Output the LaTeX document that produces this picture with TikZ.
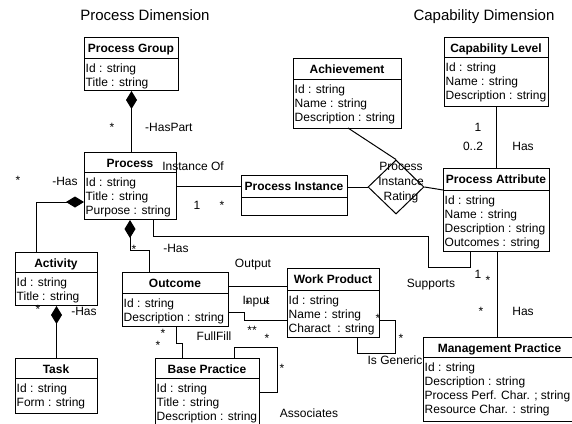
\documentclass[tikz,border=0pt]{standalone}
\usepackage{fontspec}
\setmainfont{Liberation Sans}
\usetikzlibrary{arrows.meta,shapes.geometric,calc}

\tikzset{
  cbox/.style={draw, line width=1pt, anchor=north west, inner sep=0pt, fill=white},
  ctitle/.style={anchor=base, inner sep=0pt, font=\fontsize{12}{14}\selectfont\bfseries},
  cattr/.style={anchor=north west, inner sep=0pt, align=left, font=\fontsize{12}{14}\selectfont},
  conn/.style={line width=1pt, draw=black},
  comp/.style={conn, -{Diamond[length=18pt,width=11pt,fill=black]}},
  lbl/.style={inner sep=0pt, font=\fontsize{12}{14}\selectfont, text height=8.6pt, text depth=0pt},
  star/.style={inner sep=0pt, font=\fontsize{12}{14}\selectfont},
  dimtitle/.style={inner sep=0pt, font=\fontsize{15}{18}\selectfont, text height=10.8pt, text depth=0pt},
  ratingbox/.style={draw, line width=1pt, shape=diamond, minimum width=56pt, minimum height=54pt, inner sep=0pt},
}

% name, left, top, right, divider, bottom, title, attributes
\newcommand{\umlclass}[8]{%
  \node[cbox, minimum width={(#4-#2)*1pt}, minimum height={(#6-#3)*1pt}] (#1) at (#2,#3) {};
  \draw[conn] (#2,#5) -- (#4,#5);
  \node[ctitle] (#1-t) at ({(#2+#4)/2},{#3+15}) {#7};
  \node[cattr] (#1-a) at ({#2+1.5},{#5+4}) {\rule{0pt}{10pt}#8};
}

\begin{document}
\begin{tikzpicture}[x=1pt,y=-1pt]
\clip (0,0) rectangle (572,423);
\fill[white] (0,0) rectangle (572,423);

% titles
\node[dimtitle] (tproc) at (145,15) {Process Dimension};
\node[dimtitle] (tcap) at (484,15) {Capability Dimension};

% classes
\umlclass{pg}{84}{37}{178}{58}{90}{Process Group}{Id : string\\Title : string}
\umlclass{proc}{84}{152}{176}{172}{219}{Process}{Id : string\\Title : string\\Purpose : string}
\umlclass{pi}{241}{175}{347}{197}{215}{Process Instance}{}
\umlclass{ach}{293}{58}{401}{79}{128}{Achievement}{Id : string\\Name : string\\Description : string}
\umlclass{cl}{444}{37}{548}{57}{106}{Capability Level}{Id : string\\Name : string\\Description : string}
\umlclass{pa}{443}{168}{549}{190}{251}{Process Attribute}{Id : string\\Name : string\\Description : string\\Outcomes : string}
\umlclass{act}{15}{252}{97}{272}{305}{Activity}{Id : string\\Title : string}
\umlclass{out}{122}{272}{228}{293}{326}{Outcome}{Id : string\\Description : string}
\umlclass{wp}{287}{268}{379}{290}{337}{Work Product}{Id : string\\Name : string\\Charact\ \ : string}
\umlclass{task}{15}{358}{97}{378}{413}{Task}{Id : string\\Form : string}
\umlclass{bp}{155}{358}{259}{378}{432}{Base Practice}{Id : string\\Title : string\\Description : string}
\umlclass{mp}{423}{337}{576}{357}{421}{Management Practice}{Id : string\\Description : string\\Process Perf. Char. ; string\\Resource Char. : string}

% rating diamond
\node[ratingbox] (pir) at (396,187) {};
\node[align=center, inner sep=0pt, font=\fontsize{12}{15}\selectfont] (pirt) at (401,183) {Process\\Instance\\Rating};

% bend points
\coordinate (b1) at (36,202);
\coordinate (b2) at (130,250);
\coordinate (b3) at (149,250);
\coordinate (b4) at (0,186);
\coordinate (b5) at (0,190);
\coordinate (b6) at (497,300);
\coordinate (s1) at (153,236);
\coordinate (s2) at (428,267);
\coordinate (s3) at (470,267);
\coordinate (o1) at (0,286);
\coordinate (i1) at (244,312);
\coordinate (i2) at (244,320);
\coordinate (f1) at (176,343);
\coordinate (f2) at (182,343);
\coordinate (a1) at (234,347);
\coordinate (a2) at (277,392);
\coordinate (g1) at (395,320);
\coordinate (g2) at (357,353);
\coordinate (achp) at (348,128);

% connectors
\draw[comp] (pg.south |- proc.north) -- (pg.south);
\draw[comp] (act.north -| b1) |- (proc.west |- b1);
\draw[comp] (task.north) -- (act.south);
\draw[comp] (out.north -| b3) -- (b3) -- (b2) -- (proc.south -| b2);
\draw[conn] (proc.east |- b4) -- (pi.west |- b4);
\draw[conn] (pi.east |- pir.west) -- (pir.west);
\draw[conn] (achp) -- (pir.north);
\draw[conn] (pir.east) -- (pa.west |- b5);
\draw[conn] (cl.south) -- (cl.south |- pa.north);
\draw[conn] (proc.south -| s1) -- (s1) -| (s2) -- (s3) -- (pa.south -| s3);
\draw[conn] (pa.south -| b6) -- (mp.north -| b6);
\draw[conn] (out.east |- o1) -- (wp.west |- o1);
\draw[conn] (out.east |- i1) -- (i1) -- (i2) -- (wp.west |- i2);
\draw[conn] (out.south -| f1) -- (f1) -- (f2) -- (bp.north -| f2);
\draw[conn] (bp.north -| a1) -- (a1) -| (a2) -- (bp.east |- a2);
\draw[conn] (wp.east |- g1) -- (g1) |- (g2) -- (wp.south -| g2);

% labels
\node[star] (l1) at (112,127) {*};
\node[lbl, anchor=west] (l2) at (145,127) {-HasPart};
\node[lbl] (l3) at (193,166) {Instance Of};
\node[star] (l4) at (18,180) {*};
\node[lbl] (l5) at (65,181) {-Has};
\node[lbl] (l6) at (197,205) {1};
\node[star] (l7) at (222,205) {*};
\node[star] (l8) at (134,249) {*};
\node[lbl] (l9) at (176,248) {-Has};
\node[lbl] (l10) at (253,263) {Output};
\node[lbl] (l11) at (256,300) {Input};
\node[star] (l12) at (248,304) {*};
\node[star] (l13) at (267,304) {*};
\node[star] (l14) at (38,309) {*};
\node[lbl] (l15) at (84,311) {-Has};
\node[star] (l16) at (163,333) {*};
\node[star] (l17) at (158,345) {*};
\node[lbl] (l18) at (214,336) {FullFill};
\node[star] (l19) at (252,330) {**};
\node[star] (l20) at (267,338) {*};
\node[star] (l21) at (282,368) {*};
\node[lbl] (l22) at (309,413) {Associates};
\node[star] (l23) at (378,318) {*};
\node[star] (l24) at (401,338) {*};
\node[lbl] (l25) at (395,360) {Is Generic};
\node[lbl] (l26) at (431,283) {Supports};
\node[lbl] (l27) at (478,274) {1};
\node[star] (l28) at (488,280) {*};
\node[star] (l29) at (481,311) {*};
\node[lbl] (l30) at (523,311) {Has};
\node[lbl] (l31) at (478,127) {1};
\node[lbl] (l32) at (473,146) {0..2};
\node[lbl] (l33) at (523,146) {Has};
\end{tikzpicture}
\end{document}
